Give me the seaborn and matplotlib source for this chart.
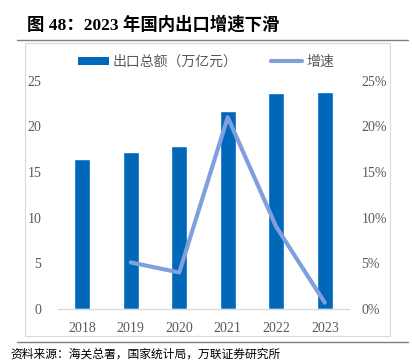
import numpy as np
import pandas as pd
import matplotlib
matplotlib.use("Agg")
import matplotlib.pyplot as plt
import seaborn as sns
from matplotlib.lines import Line2D
from matplotlib.patches import Rectangle, Patch

# data
years = ["2018", "2019", "2020", "2021", "2022", "2023"]
exports = [16.4, 17.2, 17.9, 21.7, 23.6, 23.8]          # 出口总额（万亿元）
growth = [np.nan, 5.1, 4.0, 21.0, 9.0, 0.7]              # 增速 (%)

bar_color = "#0067B9"
line_color = "#7FA0DC"
tick_color = "#595959"

sns.set_theme(style="white")
plt.rcParams['font.family'] = ['Liberation Serif', 'Noto Sans CJK SC', 'DejaVu Sans']

df = pd.DataFrame({"year": years, "exports": exports, "growth": growth})
df["pos"] = np.arange(len(df))

fig = plt.figure(figsize=(4.12, 3.63), dpi=100)
ax = fig.add_axes([58 / 412, 1 - 309 / 363, (349 - 58) / 412, (309 - 80.7) / 363])

sns.barplot(data=df, x="pos", y="exports", color=bar_color, width=0.32,
            saturation=1, ax=ax, native_scale=True)
ax.set_xlim(-0.5, len(years) - 0.5)
ax.set_ylim(0, 25)
ax.set_yticks(np.arange(0, 26, 5))
ax.set_xticks(df["pos"])
ax.set_xticklabels(years)

ax2 = ax.twinx()
sns.lineplot(data=df.dropna(), x="pos", y="growth", color=line_color,
             linewidth=3, ax=ax2)
ax2.set_ylim(0, 25)
ax2.set_yticks(np.arange(0, 26, 5))
ax2.set_yticklabels([f"{v}%" for v in range(0, 26, 5)])

for a in (ax, ax2):
    a.set_xlabel("")
    a.set_ylabel("")
    for s in a.spines.values():
        s.set_visible(False)
    a.tick_params(length=0, labelsize=10, labelcolor=tick_color)
ax.spines["bottom"].set_visible(True)
ax.spines["bottom"].set_color("#d9d9d9")
ax.spines["bottom"].set_linewidth(1)
ax.tick_params(axis="y", pad=12)
ax.tick_params(axis="x", pad=9)
ax2.tick_params(axis="y", pad=9)

handles = [Patch(facecolor=bar_color, edgecolor="none"),
           Line2D([], [], color=line_color, linewidth=3)]
fig.legend(handles, ["出口总额（万亿元）", "增速"], loc="center",
           bbox_to_anchor=(0.5, 1 - 62 / 363), ncol=2, frameon=False,
           handlelength=2.2, handleheight=0.5, handletextpad=0.3,
           columnspacing=2.4, prop={"size": 10},
           labelcolor=tick_color)

# frame and rules
fig.add_artist(Rectangle((25 / 412, 1 - 335.7 / 363), (390 - 25) / 412,
                         (335.7 - 43.3) / 363, transform=fig.transFigure,
                         facecolor="none", edgecolor="#d9d9d9", linewidth=0.8))
for yy in (39.5, 341.7):
    fig.add_artist(Line2D([17 / 412, 408 / 412], [1 - yy / 363] * 2,
                          transform=fig.transFigure, color="#7f7f7f", linewidth=1))

fig.text(27 / 412, 1 - 25 / 363, "图 48：2023 年国内出口增速下滑",
         fontsize=12.5, fontweight="bold", va="center", ha="left", color="black")
fig.text(10 / 412, 1 - 361 / 363, "资料来源：海关总署，国家统计局，万联证券研究所",
         fontsize=8.5, va="bottom", ha="left", color="black")

fig.savefig("out.png", dpi=100)
